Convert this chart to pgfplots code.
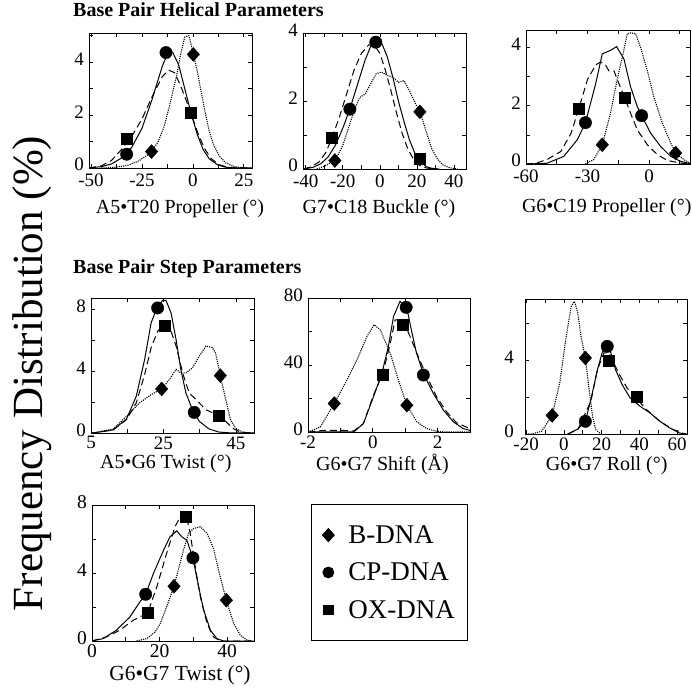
\documentclass[border=0pt]{standalone}
\usepackage{pgfplots}
\pgfplotsset{compat=1.18}
\usepackage{fontspec}
\setmainfont{Liberation Serif}
\pgfplotsset{
 panel/.style={scale only axis, anchor=south west, axis line style={line width=0.8pt}, tick style={line width=0.7pt, black},
   tick align=inside, major tick length=4pt, minor tick length=4pt, ymin=0,
   ticklabel style={font=\fontsize{19}{22}\selectfont}, clip mode=individual,
   yticklabel style={xshift=-1.5pt, yshift=3pt},
   xticklabel style={yshift=0pt},
   every axis plot/.append style={black}},
 toprow/.style={xticklabel style={yshift=-2.5pt}},
 cp/.style={line width=1pt, solid, no marks},
 ox/.style={line width=1pt, dash pattern=on 7pt off 4pt, no marks},
 bd/.style={line width=1.1pt, dash pattern=on 1.1pt off 1.1pt, no marks},
 mB/.style={only marks, mark=square*, mark size=4.4pt, mark options={solid, yscale=1.12, rotate=45, fill=black}},
 mC/.style={only marks, mark=*, mark size=6.2pt, mark options={solid, fill=black}},
 mO/.style={only marks, mark=square*, mark size=5.5pt, mark options={solid, fill=black}},
}
\begin{document}
\begin{tikzpicture}
\path[use as bounding box] (0,0) rectangle (692pt,690pt);
% ---------- Panel 1 ----------
\begin{axis}[panel, toprow, at={(89pt,522pt)}, width=163pt, height=135pt,
  xmin=-51, xmax=29, ymax=5.1,
  xtick={-50,-25,0,25}, xticklabels={-50,-25,0,25}, minor xtick={-37.5,-12.5,12.5},
  ytick={0,2,4}, yticklabels={\raisebox{2pt}{0},2,4}, minor ytick={1,3,5}]
\addplot[cp] coordinates {(-51,0) (-45,0.05) (-40,0.15) (-35,0.38) (-30,0.78) (-25,1.5) (-20,2.6) (-15,3.85) (-12,4.4) (-10,4.38) (-7,3.9) (-4,3.0) (-1,2.1) (2,1.3) (5,0.7) (8,0.35) (12,0.12) (16,0.03) (20,0) (29,0)};
\addplot[ox] coordinates {(-51,0) (-45,0.08) (-40,0.28) (-35,0.7) (-32,1.0) (-30,1.2) (-25,1.85) (-20,2.7) (-15,3.45) (-12,3.7) (-9,3.6) (-6,3.1) (-3,2.5) (0,1.85) (3,1.2) (6,0.7) (9,0.35) (13,0.12) (17,0.03) (22,0) (29,0)};
\addplot[bd] coordinates {(-45,0) (-38,0.03) (-32,0.1) (-27,0.25) (-23,0.45) (-20,0.65) (-17,1.0) (-14,1.6) (-11,2.5) (-8,3.5) (-6,4.3) (-4,4.95) (-2,5.0) (0,4.4) (2,3.7) (4,2.9) (6,2.1) (8,1.4) (10,0.9) (13,0.45) (16,0.2) (20,0.06) (25,0)};
\addplot[mB] coordinates {(-20.3,0.62) (0.2,4.29)};
\addplot[mC] coordinates {(-32.5,0.52) (-13.2,4.36)};
\addplot[mO] coordinates {(-32.5,1.12) (-1,2.09)};
\end{axis}
% ---------- Panel 2 ----------
\begin{axis}[panel, toprow, at={(303pt,521pt)}, width=163pt, height=136pt,
  xmin=-41.5, xmax=46.5, ymax=4,
  xtick={-40,-20,0,20,40}, xticklabels={-40,-20,0,20,40}, minor xtick={-30,-10,10,30},
  ytick={0,2,4}, yticklabels={\raisebox{1pt}{0},2,4}, minor ytick={1,3}]
\addplot[cp] coordinates {(-41,0) (-36,0.05) (-32,0.15) (-28,0.35) (-24,0.7) (-20,1.2) (-16,1.8) (-12,2.5) (-8,3.2) (-5,3.6) (-2,3.8) (1,3.7) (4,3.3) (7,2.7) (10,2.0) (13,1.4) (16,0.85) (19,0.45) (22,0.2) (25,0.07) (28,0.02) (32,0)};
\addplot[ox] coordinates {(-41,0) (-37,0.07) (-33,0.2) (-29,0.5) (-26,0.9) (-22,1.5) (-18,2.2) (-14,2.9) (-10,3.4) (-6,3.65) (-3,3.65) (0,3.4) (3,2.9) (6,2.3) (9,1.65) (12,1.05) (15,0.6) (18,0.3) (21,0.12) (25,0.03) (30,0)};
\addplot[bd] coordinates {(-34,0) (-30,0.08) (-26,0.2) (-24,0.27) (-20,0.7) (-17,1.2) (-14,1.7) (-11,2.1) (-8,2.2) (-5,2.5) (-2,2.8) (1,2.85) (4,2.75) (7,2.7) (10,2.55) (13,2.6) (16,2.3) (19,1.95) (22,1.62) (25,1.1) (28,0.6) (31,0.3) (34,0.12) (38,0.03) (42,0)};
\addplot[mB] coordinates {(-24.3,0.25) (21.6,1.68)};
\addplot[mC] coordinates {(-16.2,1.76) (-2.2,3.73)};
\addplot[mO] coordinates {(-26.1,0.91) (21.6,0.29)};
\end{axis}
% ---------- Panel 3 ----------
\begin{axis}[panel, toprow, at={(526pt,526pt)}, width=164pt, height=134pt,
  xmin=-60, xmax=20, ymax=4.6,
  xtick={-60,-30,0}, xticklabels={-60,-30,0}, minor xtick={-45,-15,15},
  ytick={0,2,4}, yticklabels={\raisebox{2pt}{0},2,4}, minor ytick={1,3}]
\addplot[cp] coordinates {(-60,0) (-50,0.02) (-41.6,0.26) (-35,0.83) (-31,1.42) (-26,2.76) (-22.8,3.78) (-18.8,3.9) (-15.8,4.03) (-12.2,3.6) (-9,2.65) (-5.7,1.97) (-3.6,1.66) (0.8,1.06) (5.7,0.6) (10.6,0.26) (15.5,0.09) (20,0.01)};
\addplot[ox] coordinates {(-60,0) (-55,0.03) (-49.8,0.15) (-43,0.43) (-38,1.06) (-34.3,1.89) (-30,2.9) (-26,3.4) (-23.7,3.5) (-21.2,3.4) (-19.6,3.2) (-17.1,3.2) (-14.7,2.76) (-11.9,2.28) (-9,1.74) (-5.7,1.17) (-0.8,0.66) (4.1,0.32) (9,0.12) (15.5,0.03) (20,0)};
\addplot[bd] coordinates {(-31,0) (-27,0.15) (-22.8,0.66) (-18.8,1.74) (-15.5,2.9) (-13,3.67) (-10.6,4.47) (-9,4.5) (-6.5,4.47) (-4.1,4.0) (-0.8,3.2) (2.4,2.3) (6.5,1.4) (10.6,0.72) (13,0.38) (17,0.15) (20,0.03)};
\addplot[mB] coordinates {(-22.8,0.66) (13,0.375)};
\addplot[mC] coordinates {(-31,1.42) (-3.6,1.66)};
\addplot[mO] coordinates {(-34.3,1.89) (-11.9,2.28)};
\end{axis}
% ---------- Panel 4 ----------
\begin{axis}[panel, at={(91pt,257pt)}, width=163pt, height=135pt,
  xmin=5, xmax=50, ymax=8.7,
  xtick={5,25,45}, xticklabels={5,25,45}, minor xtick={15,35},
  ytick={0,4,8}, yticklabels={0,4,8}, minor ytick={2,6}]
\addplot[cp] coordinates {(5,0) (5.6,0) (11.1,0.2) (14.8,0.9) (17.5,2.37) (19.8,4.73) (21.6,7.1) (23.4,8.17) (24.8,8.55) (25.7,8.55) (27.1,7.74) (28.5,6.0) (29.8,4.1) (31.2,2.58) (33,1.5) (34.9,0.75) (37.6,0.26) (40.3,0.06) (44,0) (50,0)};
\addplot[ox] coordinates {(5,0) (5.6,0) (11.1,0.2) (14.8,0.86) (17.5,1.94) (19.8,3.76) (21.6,5.5) (23.4,6.56) (25.3,7.0) (26.6,6.9) (28.5,5.6) (30.3,3.87) (32.1,2.58) (34,2.15) (36.7,1.5) (40.3,1.12) (42.2,0.75) (44,0.32) (45.8,0.1) (48.6,0) (50,0)};
\addplot[bd] coordinates {(5,0) (5.6,0) (11.1,0.26) (14.8,1.07) (18.4,1.94) (21.6,2.47) (24.5,2.84) (26.6,3.44) (28.5,4.1) (29.8,3.87) (31.2,3.87) (33,4.2) (34.9,4.95) (36.7,5.6) (38.5,5.5) (39.4,5.16) (40.7,3.7) (42.2,2.15) (43.5,0.86) (44.9,0.32) (46.7,0.06) (48.6,0) (50,0)};
\addplot[mB] coordinates {(24.5,2.84) (40.7,3.7)};
\addplot[mC] coordinates {(23.4,8.06) (33.5,1.33)};
\addplot[mO] coordinates {(25.3,6.92) (40.3,1.12)};
\end{axis}
% ---------- Panel 5 ----------
\begin{axis}[panel, at={(308pt,258pt)}, width=162pt, height=134pt,
  xmin=-2, xmax=3, ymax=80,
  xtick={-2,0,2}, xticklabels={-2,0,2}, minor xtick={-1,1},
  ytick={0,40,80}, yticklabels={0,40,80}, minor ytick={20,60}]
\addplot[cp] coordinates {(-2,0) (-0.59,0) (-0.29,5) (0.02,21) (0.28,35) (0.48,51) (0.64,69) (0.84,78) (1.05,74) (1.2,60) (1.35,47) (1.56,35) (1.87,23) (2.18,13) (2.49,6) (2.79,2) (3,1)};
\addplot[ox] coordinates {(-2,0) (-1.5,1) (-1.0,1) (-0.59,0.6) (-0.29,5) (0.02,22) (0.30,34.4) (0.54,53) (0.69,67) (0.93,67) (1.15,57) (1.36,47) (1.67,33) (1.97,21) (2.28,12) (2.59,5.4) (3,2)};
\addplot[bd] coordinates {(-2,0) (-1.62,3) (-1.19,17) (-0.8,31) (-0.49,43) (-0.18,57) (0.04,64) (0.23,61) (0.54,47) (0.79,31) (1.05,16) (1.36,6) (1.67,2) (1.97,0.4) (2.28,0) (3,0)};
\addplot[mB] coordinates {(-1.19,17) (1.05,16)};
\addplot[mC] coordinates {(1.03,74.4) (1.56,34)};
\addplot[mO] coordinates {(0.30,34.4) (0.93,64)};
\end{axis}
% ---------- Panel 6 ----------
\begin{axis}[panel, at={(525pt,256pt)}, width=162pt, height=135pt,
  xmin=-20.6, xmax=65.3, ymax=7.33,
  xtick={-20,0,20,40,60}, xticklabels={-20,0,20,40,60}, minor xtick={-10,10,30,50},
  ytick={0,4}, yticklabels={0,4}, minor ytick={2,6},
  yticklabel style={xshift=-6pt}]
\addplot[cp] coordinates {(2.1,0) (7.4,0.27) (11.4,0.69) (14.3,1.86) (17.8,3.49) (20.4,4.45) (22.7,4.65) (24.8,4.45) (27.4,3.49) (30.9,2.68) (35.2,1.95) (40.5,1.5) (45.7,1.14) (50.9,0.69) (56.1,0.33) (61.4,0.05) (65,0)};
\addplot[ox] coordinates {(2.1,0) (7.4,0.24) (14.3,1.77) (17.8,3.49) (21.2,4.4) (23.9,4.4) (26.5,3.85) (30,3.13) (33.5,2.5) (38.7,1.9) (43.9,1.32) (50.9,0.69) (57.9,0.24) (63.1,0.04) (65,0)};
\addplot[bd] coordinates {(-20,0) (-17,0) (-11.8,0.15) (-6.2,1.01) (-2.2,2.77) (1.25,5.3) (3.9,6.93) (5.6,7.2) (7.4,6.57) (9.1,5.3) (11.4,4.13) (13.4,2.4) (15.2,0.96) (16.9,0.24) (19.5,0)};
\addplot[mB] coordinates {(-6.2,1.01) (11.4,4.13)};
\addplot[mC] coordinates {(11.4,0.69) (23,4.76)};
\addplot[mO] coordinates {(23.9,4.0) (38.7,2.0)};
\end{axis}
% ---------- Panel 7 ----------
\begin{axis}[panel, at={(92pt,49pt)}, width=162pt, height=136pt,
  xmin=0, xmax=48, ymax=8,
  ticklabel style={font=\fontsize{19.5}{22}\selectfont},
  xtick={0,20,40}, xticklabels={0,20,40}, minor xtick={10,30},
  ytick={0,4,8}, yticklabels={0,4,8}, minor ytick={2,6},
  legend style={at={(axis description cs:1.352,1.007)}, anchor=north west, draw=black, line width=0.8pt,
    font=\fontsize{27}{30}\selectfont, row sep=14pt, column sep=12pt, inner xsep=11pt, inner ysep=19pt},
  legend cell align=left]
\addlegendimage{only marks, mark=square*, mark size=4.2pt, mark options={yscale=1.12, rotate=45, fill=black}}
\addlegendentry{B-DNA}
\addlegendimage{only marks, mark=*, mark size=5.5pt}
\addlegendentry{CP-DNA}
\addlegendimage{only marks, mark=square*, mark size=4.8pt}
\addlegendentry{OX-DNA}
\addplot[cp, forget plot] coordinates {(0,0) (3.3,0.14) (7.2,0.63) (11.2,1.41) (14.2,2.3) (15.9,2.75) (18.2,3.97) (21.2,5.34) (23.1,6.13) (25.1,6.48) (26.6,6.13) (28.1,5.93) (29.9,4.89) (31.6,3.18) (33.1,1.81) (35.1,0.63) (37,0.14) (39,0) (48,0)};
\addplot[ox, forget plot] coordinates {(0,0) (4.3,0.24) (8.2,0.63) (12.2,1.22) (16.5,1.65) (19.2,3.18) (22.1,5.15) (24.6,6.72) (26.6,7.5) (27.9,7.4) (29.1,6.33) (30.6,4.36) (32.1,2.59) (34.1,1.02) (36,0.24) (38,0) (48,0)};
\addplot[bd, forget plot] coordinates {(13.2,0) (16.2,0.14) (18.7,0.53) (20.2,1.02) (22.1,2.0) (24.3,3.22) (27.1,5.34) (28.6,6.33) (30.1,6.62) (32.1,6.72) (34.1,6.33) (36,5.44) (38,3.77) (39.8,2.4) (42,1.02) (44,0.33) (46,0.04) (47.5,0)};
\addplot[mB, forget plot] coordinates {(24.3,3.22) (39.8,2.4)};
\addplot[mC, forget plot] coordinates {(15.9,2.75) (29.9,4.89)};
\addplot[mO, forget plot] coordinates {(16.5,1.65) (27.9,7.31)};
\end{axis}
% ---------- Labels and titles ----------
\begin{scope}[every node/.style={font=\fontsize{20}{23}\selectfont, inner sep=0pt}]
\node at (180pt,481pt) {A5•T20 Propeller (°)};
\node at (379pt,481pt) {G7•C18 Buckle (°)};
\node at (606.7pt,482pt) {G6•C19 Propeller (°)};
\node at (165.8pt,226pt) {A5•G6 Twist (°)};
\node at (382.5pt,226pt) {G6•G7 Shift (Å)};
\node at (606.7pt,224pt) {G6•G7 Roll (°)};
\node[font=\fontsize{21.5}{24}\selectfont] at (180pt,14.5pt) {G6•G7 Twist (°)};
\end{scope}
\node[anchor=base west, inner sep=0pt, font=\fontsize{20}{24}\selectfont\bfseries] at (73pt,673.5pt) {Base Pair Helical Parameters};
\node[anchor=base west, inner sep=0pt, font=\fontsize{20}{24}\selectfont\bfseries] at (73pt,416pt) {Base Pair Step Parameters};
\node[rotate=90, anchor=base, inner sep=0pt, font=\fontsize{43}{48}\selectfont] at (42pt,316.5pt) {Frequency Distribution (\%)};
\end{tikzpicture}
\end{document}
